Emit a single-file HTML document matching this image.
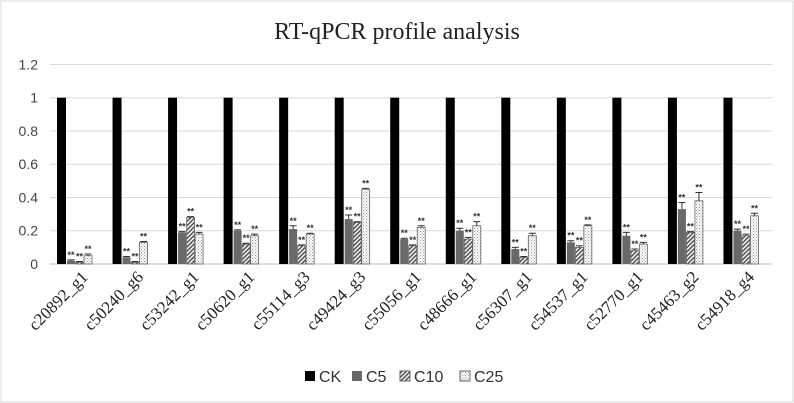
<!DOCTYPE html>
<html><head><meta charset="utf-8"><style>
html,body{margin:0;padding:0;background:#fff;}
svg{display:block;}
</style></head><body>
<svg id="chart" width="794" height="403" xmlns="http://www.w3.org/2000/svg">
<defs>
<pattern id="hatch" width="3" height="3" patternUnits="userSpaceOnUse" patternTransform="rotate(45)">
<rect width="3" height="3" fill="#fff"/><rect width="1.6" height="3" fill="#555"/></pattern>
<pattern id="dots" width="3" height="3" patternUnits="userSpaceOnUse">
<rect width="3" height="3" fill="#fff"/><rect width="1" height="1" fill="#999"/><rect x="1.5" y="1.5" width="1" height="1" fill="#999"/></pattern>
</defs>
<rect x="1" y="1" width="792" height="401" fill="#fff" stroke="#d9d9d9"/>
<text x="397" y="39" text-anchor="middle" font-family="Liberation Serif, serif" font-size="24" fill="#222">RT-qPCR profile analysis</text>
<g id="grid"></g><g id="bars"></g><g id="labels"></g><g id="legend"></g>
</svg>
<script>
const categories=["c20892_g1","c50240_g6","c53242_g1","c50620_g1","c55114_g3","c49424_g3","c55056_g1","c48666_g1","c56307_g1","c54537_g1","c52770_g1","c45463_g2","c54918_g4"];
const seriesNames=["CK","C5","C10","C25"];
const ck=[1,1,1,1,1,1,1,1,1,1,1,1,1];
const c5=[0.02,0.04,0.19,0.20,0.21,0.27,0.15,0.20,0.09,0.13,0.17,0.33,0.20];
const c10=[0.01,0.01,0.28,0.12,0.11,0.25,0.11,0.15,0.04,0.10,0.08,0.19,0.17];
const c25=[0.05,0.13,0.18,0.17,0.18,0.45,0.22,0.23,0.17,0.23,0.12,0.38,0.29];
const c5err=[0.005,0.005,0.005,0.005,0.02,0.025,0.005,0.015,0.01,0.01,0.02,0.04,0.01];
const c10err=[0.005,0.005,0.005,0.005,0.005,0.005,0.005,0.01,0.005,0.01,0.01,0.005,0.01];
const c25err=[0.01,0.005,0.01,0.01,0.005,0.005,0.01,0.025,0.015,0.005,0.01,0.05,0.015];
const yTicks=[0,0.2,0.4,0.6,0.8,1,1.2];
const yTickLabels=["0","0.2","0.4","0.6","0.8","1","1.2"];
const NS="http://www.w3.org/2000/svg";
const X0=50,X1=772,Y0=264,Y1=97.7;
const gw=(X1-X0)/categories.length;
const y=v=>Y0-(Y0-Y1)*v;
const gx=i=>X0+i*gw;
function mk(t,a,p){const e=document.createElementNS(NS,t);for(const k in a)e.setAttribute(k,a[k]);p.appendChild(e);return e;}
const grid=document.getElementById('grid');
yTicks.forEach((t,i)=>{
  if(t>0){const l=mk('line',{x1:X0,x2:X1,y1:y(t),y2:y(t),stroke:'#d9d9d9','stroke-width':1},grid);
  
  }
  const tx=mk('text',{x:38,y:y(t)+5,'text-anchor':'end','font-family':'Liberation Sans, sans-serif','font-size':14,fill:'#444'},grid);
  tx.textContent=yTickLabels[i];
  
  
});
const ax=mk('line',{x1:X0,x2:X1,y1:Y0,y2:Y0,stroke:'#bfbfbf','stroke-width':1},grid);


const bars=document.getElementById('bars');
const fills=['#000','#696969','url(#hatch)','url(#dots)'];
const data=[ck,c5,c10,c25];const errs=[null,c5err,c10err,c25err];
const offs=[7,17,25.5,34];const bw=[9,8,8,8];
categories.forEach((c,i)=>{
  data.forEach((s,k)=>{
    const x=gx(i)+offs[k],v=s[i];
    const r=mk('rect',{x:x,y:y(v),width:bw[k],height:Y0-y(v),fill:fills[k],stroke:k>1?'#666':'none','stroke-width':0.8},bars);
    
    
    if(k>0){
      const top=y(v+errs[k][i]),cx=x+bw[k]/2;
      const e=mk('path',{d:`M${cx},${y(v)}V${top}M${cx-3.5},${top}H${cx+3.5}`,stroke:'#333','stroke-width':1,fill:'none'},bars);
      
      
      const st=mk('text',{x:cx,y:top-2,'text-anchor':'middle','font-family':'Liberation Sans, sans-serif','font-size':9,'font-weight':'bold',fill:'#333'},bars);
      st.textContent='**';
      
      
    }
  });
  const lx=gx(i)+gw/2+11,ly=278;
  const t=mk('text',{x:lx,y:ly,'text-anchor':'end','font-family':'Liberation Serif, serif','font-size':17,fill:'#222',transform:`rotate(-45 ${lx} ${ly})`},document.getElementById('labels'));
  t.textContent=c;
  
  
});
const lg=document.getElementById('legend');
const lx=[305,352,400,460];
seriesNames.forEach((n,k)=>{
  const r=mk('rect',{x:lx[k],y:371,width:10,height:10,fill:fills[k],stroke:k>1?'#666':'none'},lg);
  
  
  const t=mk('text',{x:lx[k]+14,y:382,'font-family':'Liberation Sans, sans-serif','font-size':16,fill:'#333'},lg);
  t.textContent=n;
  
  
});
</script>
</body></html>
